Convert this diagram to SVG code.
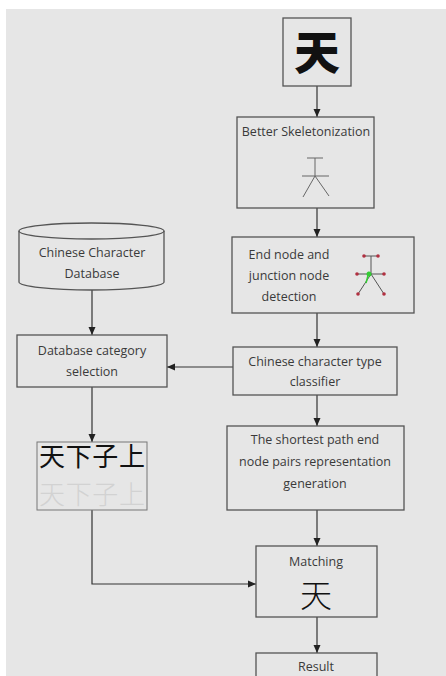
<svg xmlns="http://www.w3.org/2000/svg" width="446" height="676" viewBox="0 0 446 676">
<defs>
<marker id="ah" markerWidth="10" markerHeight="10" refX="9" refY="5" orient="auto" markerUnits="userSpaceOnUse">
<path d="M1,1.5 L9,5 L1,8.5 Z" fill="#222"/>
</marker>
<style>
.box{fill:none;stroke:#555;stroke-width:1.3}
.t{font-family:"Open Sans","Liberation Sans",sans-serif;font-size:12.5px;fill:#3a3a3a;text-anchor:middle}
.c{stroke:#333;stroke-width:1.2;fill:none}
.cjk{font-family:"Noto Sans CJK SC","Noto Sans CJK JP",sans-serif;text-anchor:middle}
.sk{stroke:#666;stroke-width:1;fill:none}
</style>
</defs>
<rect x="0" y="0" width="446" height="676" fill="#ffffff"/>
<rect x="6" y="9" width="440" height="667" fill="#e6e6e6"/>

<g id="connectors">
<line class="c" x1="317" y1="86" x2="317" y2="117" marker-end="url(#ah)"/>
<line class="c" x1="317" y1="208" x2="317" y2="237" marker-end="url(#ah)"/>
<line class="c" x1="317" y1="313" x2="317" y2="347" marker-end="url(#ah)"/>
<line class="c" x1="317" y1="395" x2="317" y2="426" marker-end="url(#ah)"/>
<line class="c" x1="317" y1="510" x2="317" y2="546" marker-end="url(#ah)"/>
<line class="c" x1="317" y1="617" x2="317" y2="653" marker-end="url(#ah)"/>
<line class="c" x1="233" y1="367" x2="167" y2="367" marker-end="url(#ah)"/>
<line class="c" x1="92" y1="290" x2="92" y2="335" marker-end="url(#ah)"/>
<line class="c" x1="92" y1="387" x2="92" y2="442" marker-end="url(#ah)"/>
<polyline class="c" points="92,510 92,584 256,584" marker-end="url(#ah)"/>
</g>

<g id="input">
<rect class="box" x="283" y="18" width="68" height="68"/>
<text class="cjk" x="317" y="69" font-size="46" font-weight="900" fill="#111">天</text>
</g>

<g id="skeletonization">
<rect class="box" x="237" y="117" width="137" height="91"/>
<text class="t" x="306" y="136">Better Skeletonization</text>
<path class="sk" d="M307,158 H323 M315,158 V176 M302,176 H329 M315,176 L303,197 M315,176 L329,196"/>
</g>

<g id="detection">
<rect class="box" x="232" y="237" width="182" height="76"/>
<text class="t" x="289" y="259">End node and</text>
<text class="t" x="289" y="280">junction node</text>
<text class="t" x="289" y="301">detection</text>
<path d="M364,256 H378 M371,256 V274 M357,274 H384 M371,274 L358,294 M371,274 L384,294" stroke="#555" stroke-width="1" fill="none"/>
<path d="M369,272 L366,283" stroke="#3c3" stroke-width="1.5"/>
<g fill="#b03040">
<circle cx="364" cy="256" r="1.8"/><circle cx="378" cy="256" r="1.8"/>
<circle cx="357" cy="274" r="1.8"/><circle cx="384" cy="274" r="1.8"/>
<circle cx="358" cy="294" r="1.8"/><circle cx="384" cy="294" r="1.8"/>
</g>
<circle cx="369" cy="274" r="2.5" fill="#3c3"/>
</g>

<g id="database">
<path class="box" d="M19,231 V282 A72.5,8 0 0 0 164,282 V231"/>
<ellipse class="box" cx="91.5" cy="231" rx="72.5" ry="8"/>
<text class="t" x="92" y="257">Chinese Character</text>
<text class="t" x="92" y="278">Database</text>
</g>

<g id="category">
<rect class="box" x="17" y="335" width="150" height="52"/>
<text class="t" x="92" y="355">Database category</text>
<text class="t" x="92" y="376">selection</text>
</g>

<g id="samples">
<rect x="37" y="442" width="110" height="68" fill="none" stroke="#777" stroke-width="1"/>
<text class="cjk" x="92" y="466" font-size="26" fill="#111" textLength="106" lengthAdjust="spacing">天下子上</text>
<text class="cjk" x="92" y="504" font-size="26" font-weight="300" fill="#d2d2d2" textLength="106" lengthAdjust="spacing">天下子上</text>
</g>

<g id="classifier">
<rect class="box" x="233" y="347" width="164" height="48"/>
<text class="t" x="315" y="366">Chinese character type</text>
<text class="t" x="315" y="386">classifier</text>
</g>

<g id="shortest">
<rect class="box" x="227" y="426" width="177" height="84"/>
<text class="t" x="315" y="444">The shortest path end</text>
<text class="t" x="315" y="466">node pairs representation</text>
<text class="t" x="315" y="488">generation</text>
</g>

<g id="matching">
<rect class="box" x="256" y="546" width="121" height="71"/>
<text class="t" x="316" y="566">Matching</text>
<text class="cjk" x="316" y="607" font-size="32" font-weight="200" fill="#111">天</text>
</g>

<g id="result">
<rect class="box" x="256" y="653" width="121" height="40"/>
<text class="t" x="316" y="671">Result</text>
</g>
</svg>
